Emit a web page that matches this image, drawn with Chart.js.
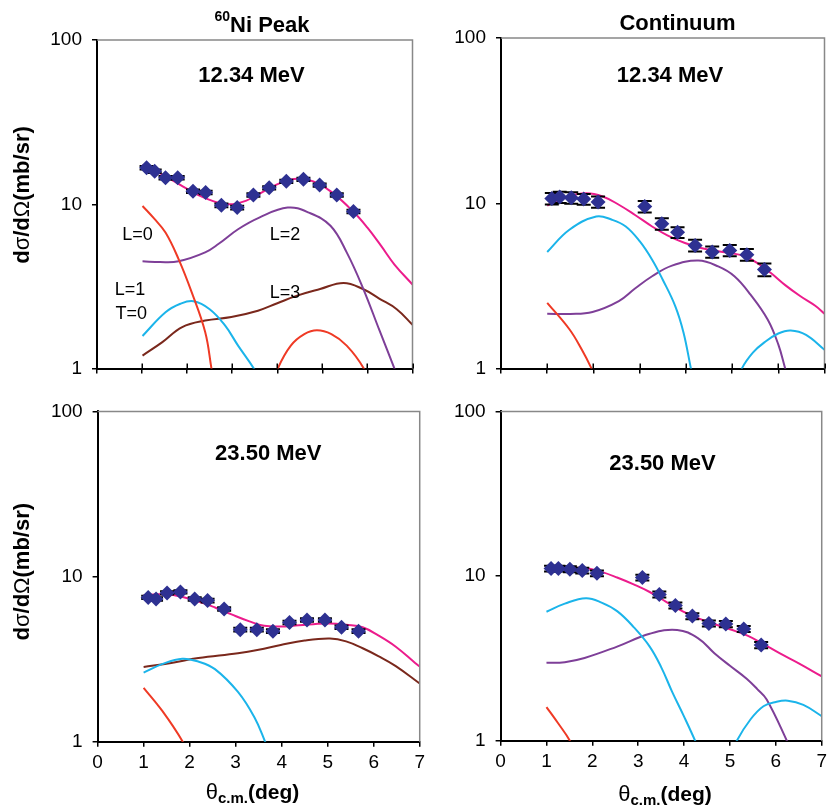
<!DOCTYPE html>
<html><head><meta charset="utf-8">
<script src="https://cdn.jsdelivr.net/npm/chart.js@4.4.0/dist/chart.umd.min.js"></script>
<style>
html,body{margin:0;padding:0;background:#fff;width:832px;height:808px;overflow:hidden;}
.p{position:absolute;}
canvas{display:block;}
</style></head><body>
<div class="p" style="left:0;top:0;"><canvas id="c1" width="420" height="390"></canvas></div>
<div class="p" style="left:420px;top:0;"><canvas id="c2" width="412" height="390"></canvas></div>
<div class="p" style="left:0;top:390px;"><canvas id="c3" width="430" height="418"></canvas></div>
<div class="p" style="left:420px;top:390px;"><canvas id="c4" width="412" height="418"></canvas></div>
<script>
// ---------------- DATA ----------------
const xTickValues = [0,1,2,3,4,5,6,7];
const yTickValues = [1,10,100];

// 60Ni peak, 12.34 MeV
const niAng12 = [1.10,1.28,1.52,1.79,2.13,2.41,2.76,3.11,3.47,3.82,4.20,4.58,4.94,5.32,5.69];
const niXs12  = [16.7,15.9,14.5,14.5,12.0,11.8,9.86,9.55,11.4,12.6,13.8,14.2,13.1,11.4,9.03];
const niErr12 = [0.4,0.4,0.35,0.35,0.3,0.3,0.25,0.25,0.28,0.3,0.33,0.33,0.3,0.28,0.22];
const niSum12T = [1.0,1.3,1.6,2.0,2.4,2.9,3.3,3.7,4.1,4.45,4.8,5.2,5.69,6.0,6.3,6.6,7.0];
const niSum12V = [17.3,15.9,14.4,12.4,10.9,10.0,10.5,12.0,13.6,14.3,13.8,11.9,9.0,7.2,5.6,4.3,3.25];
const niL0a12T = [1.01,1.265,1.52,1.81,2.10,2.40,2.54,2.6];
const niL0a12V = [9.77,8.2,6.73,4.64,2.92,1.67,1.0,0.8];
const niL0b12T = [3.96,4.01,4.30,4.6,4.88,5.2,5.54,5.92,5.97];
const niL0b12V = [0.85,1.0,1.38,1.62,1.71,1.62,1.38,1.0,0.85];
const niL1_12T = [1.01,1.52,1.85,2.14,2.5,2.84,3.13,3.48,3.54];
const niL1_12V = [1.58,2.2,2.48,2.57,2.3,1.83,1.38,1.0,0.9];
const niL2_12T = [1.01,1.4,1.81,2.40,2.7,3.13,3.6,4.23,4.7,5.18,5.54,5.91,6.27,6.60,6.66];
const niL2_12V = [4.5,4.45,4.5,5.1,5.75,7.05,8.3,9.55,8.9,7.4,5.1,3.05,1.7,1.0,0.9];
const niL3_12T = [1.01,1.45,1.89,2.4,2.98,3.57,4.0,4.44,4.95,5.47,5.9,6.27,6.65,7.0];
const niL3_12V = [1.2,1.45,1.79,1.96,2.06,2.25,2.5,2.78,3.05,3.32,3.05,2.66,2.3,1.85];

// Continuum, 12.34 MeV
const ctAng12 = [1.10,1.27,1.52,1.79,2.10,3.11,3.48,3.82,4.20,4.57,4.95,5.32,5.70];
const ctXs12  = [10.7,10.9,10.8,10.6,10.2,9.56,7.52,6.67,5.56,5.08,5.19,4.89,3.97];
const ctErr12 = [0.85,0.85,0.85,0.8,0.8,0.75,0.6,0.5,0.45,0.4,0.4,0.4,0.35];
const ctSum12T = [1.0,1.4,1.84,2.2,2.55,2.9,3.27,3.6,3.98,4.35,4.70,5.0,5.27,5.55,5.84,6.15,6.48,6.8,7.0];
const ctSum12V = [9.7,10.9,11.5,11.0,9.8,8.5,7.24,6.4,5.75,5.35,5.12,4.98,4.78,4.35,3.79,3.2,2.74,2.4,2.15];
const ctL0_12T = [1.0,1.48,1.75,1.96,2.02];
const ctL0_12V = [2.5,1.73,1.3,1.0,0.9];
const ctL1a12T = [1.0,1.48,2.06,2.4,2.7,3.0,3.27,3.5,3.77,3.95,4.11,4.15];
const ctL1a12V = [5.08,6.92,8.32,7.95,7.24,5.9,4.56,3.45,2.39,1.65,1.0,0.9];
const ctL1b12T = [5.15,5.21,5.45,5.70,6.0,6.27,6.6,7.0];
const ctL1b12V = [0.85,1.0,1.25,1.44,1.63,1.70,1.6,1.3];
const ctL2_12T = [1.0,1.5,1.98,2.55,2.9,3.27,3.7,4.27,4.7,5.05,5.4,5.77,6.0,6.15,6.2];
const ctL2_12V = [2.15,2.14,2.2,2.56,3.05,3.62,4.2,4.5,4.15,3.62,2.8,1.98,1.4,1.0,0.9];

// 60Ni peak, 23.50 MeV
const niAng23 = [1.10,1.27,1.51,1.80,2.11,2.39,2.75,3.10,3.46,3.81,4.17,4.55,4.94,5.30,5.67];
const niXs23  = [7.48,7.31,7.96,8.07,7.31,7.15,6.36,4.77,4.77,4.67,5.27,5.46,5.46,4.93,4.67];
const niErr23 = [0.18,0.18,0.18,0.18,0.18,0.18,0.15,0.12,0.12,0.12,0.13,0.13,0.13,0.12,0.12];
const niSum23T = [1.0,1.3,1.62,2.19,2.55,2.91,3.3,3.62,3.98,4.3,4.69,5.05,5.4,5.76,6.1,6.48,6.9,7.0];
const niSum23V = [7.7,7.8,7.75,7.05,6.5,5.9,5.35,5.03,4.98,5.05,5.15,5.2,5.1,4.93,4.4,3.76,3.0,2.85];
const niL0_23T = [1.0,1.41,1.85,1.9];
const niL0_23V = [2.12,1.53,1.0,0.9];
const niL1_23T = [1.0,1.4,1.84,2.2,2.55,3.05,3.41,3.64,3.7];
const niL1_23V = [2.62,2.95,3.18,3.05,2.75,2.0,1.4,1.0,0.9];
const niL3_23T = [1.0,1.6,2.19,3.05,3.5,3.98,4.5,5.05,5.4,5.76,6.1,6.48,7.0];
const niL3_23V = [2.83,3.0,3.21,3.43,3.6,3.85,4.1,4.21,4.05,3.68,3.3,2.87,2.25];

// Continuum, 23.50 MeV
const ctAng23 = [1.10,1.26,1.51,1.78,2.10,3.09,3.46,3.81,4.18,4.54,4.91,5.30,5.68];
const ctXs23  = [11.1,11.1,11.0,10.8,10.4,9.8,7.73,6.63,5.71,5.15,5.11,4.77,3.81];
const ctErr23 = [0.45,0.45,0.45,0.45,0.42,0.4,0.32,0.28,0.24,0.22,0.22,0.2,0.17];
const ctSum23T = [1.0,1.4,1.83,2.2,2.54,2.9,3.25,3.6,3.96,4.3,4.66,5.0,5.37,5.7,6.08,6.5,7.0];
const ctSum23V = [10.7,11.1,11.2,10.6,9.8,8.9,8.0,7.0,6.12,5.55,5.11,4.75,4.36,3.9,3.4,2.95,2.46];
const ctL0_23T = [1.0,1.25,1.51,1.56];
const ctL0_23V = [1.6,1.28,1.0,0.9];
const ctL1a23T = [1.0,1.4,1.86,2.2,2.54,2.9,3.25,3.5,3.74,4.0,4.24,4.3];
const ctL1a23V = [6.07,6.8,7.33,6.9,6.12,4.9,3.73,2.8,1.98,1.4,1.0,0.9];
const ctL1b23T = [5.1,5.15,5.45,5.73,6.0,6.26,6.6,7.0];
const ctL1b23V = [0.88,1.0,1.35,1.62,1.72,1.75,1.65,1.41];
const ctL2_23T = [1.0,1.4,1.83,2.54,3.25,3.85,4.3,4.66,5.0,5.37,5.6,5.8,6.24,6.3];
const ctL2_23V = [2.97,3.0,3.18,3.73,4.46,4.71,4.2,3.4,2.85,2.37,2.05,1.78,1.0,0.9];

// ---------------- STYLE ----------------
const NAVY='#2E3192', PINK='#EC1C8C', RED='#EF3A25', CYAN='#1BB4EA', PURPLE='#7E3F98', BROWN='#7A281C';
const SANS = "'Liberation Sans', Arial, Helvetica, sans-serif";

function series(t, v){ return t.map((x,i)=>({x:x, y:v[i]})); }

function drawParts(ctx, parts, cx, base){
  let w = 0;
  parts.forEach(p=>{ ctx.font = p.font; w += ctx.measureText(p.s).width; });
  let x = cx - w/2;
  parts.forEach(p=>{ ctx.font = p.font; ctx.fillText(p.s, x, base + (p.dy||0)); x += ctx.measureText(p.s).width; });
}

function makeChart(id, g, d){
  const datasets = [{
    data: series(d.ang, d.xs), showLine:false, pointStyle:'rectRot',
    pointRadius:7.5, pointHoverRadius:7.5, pointBackgroundColor:NAVY, pointBorderColor:NAVY,
    pointBorderWidth:0, errors:d.err
  }];
  d.curves.forEach(c=>datasets.push({
    data: series(c.t, c.v), borderColor:c.color, borderWidth:2, pointRadius:0,
    tension:0.4, fill:false, clip:0
  }));
  const deco = {
    id:'deco',
    beforeDatasetDraw(chart, args){
      if (args.index !== 0) return;
      const ctx = chart.ctx, xs = chart.scales.x, ys = chart.scales.y;
      const ds = chart.data.datasets[0];
      ctx.save();
      ctx.strokeStyle = '#000'; ctx.lineWidth = 2;
      ds.data.forEach((p,i)=>{
        const e = ds.errors[i];
        const px = xs.getPixelForValue(p.x);
        const y1 = ys.getPixelForValue(p.y + e), y2 = ys.getPixelForValue(p.y - e);
        ctx.beginPath();
        ctx.moveTo(px, y1); ctx.lineTo(px, y2);
        ctx.moveTo(px-g.cap, y1); ctx.lineTo(px+g.cap, y1);
        ctx.moveTo(px-g.cap, y2); ctx.lineTo(px+g.cap, y2);
        ctx.stroke();
      });
      ctx.restore();
    },
    afterDraw(chart){
      const ctx = chart.ctx, a = chart.chartArea, xs = chart.scales.x;
      ctx.save();
      ctx.strokeStyle = '#888'; ctx.lineWidth = 1.5;
      ctx.beginPath(); ctx.moveTo(a.left, a.top); ctx.lineTo(a.right, a.top); ctx.lineTo(a.right, a.bottom); ctx.stroke();
      if (g.crossTicks){
        ctx.strokeStyle = '#000'; ctx.lineWidth = 1.5;
        xTickValues.forEach(v=>{
          const px = Math.round(xs.getPixelForValue(v)) + 0.25;
          ctx.beginPath(); ctx.moveTo(px, a.bottom); ctx.lineTo(px, a.bottom-5); ctx.stroke();
        });
      }
      ctx.fillStyle = '#000'; ctx.textBaseline = 'alphabetic';
      (d.texts||[]).forEach(t=>drawParts(ctx, t.parts, t.x, t.y));
      (d.labels||[]).forEach(t=>{
        ctx.font = '18px ' + SANS; ctx.textAlign = 'center';
        ctx.fillText(t.s, chart.scales.x.getPixelForValue(t.x), chart.scales.y.getPixelForValue(t.y));
      });
      ctx.textAlign = 'left';
      if (d.yTitle){
        ctx.save();
        ctx.translate(d.yTitle.x, d.yTitle.y);
        ctx.rotate(-Math.PI/2);
        drawParts(ctx, [
          {s:'d', font:'bold 22px '+SANS},
          {s:'\u03C3', font:'22px '+SANS},
          {s:'/d', font:'bold 22px '+SANS},
          {s:'\u03A9', font:'22px '+SANS},
          {s:'(mb/sr)', font:'bold 22px '+SANS}
        ], 0, 0);
        ctx.restore();
      }
      if (d.xTitle){
        drawParts(ctx, [
          {s:'\u03B8', font:'22px '+SANS},
          {s:'c.m.', font:'bold 15px '+SANS, dy:4},
          {s:'(deg)', font:'bold 21px '+SANS}
        ], d.xTitle.x, d.xTitle.y);
      }
      ctx.restore();
    }
  };
  const gridCfg = { display:true, drawOnChartArea:false, drawTicks:true, tickLength:5, color:'#000', lineWidth:1.5 };
  const borderCfg = { display:true, color:'#000', width:2 };
  new Chart(document.getElementById(id), {
    type:'line',
    data:{ datasets },
    options:{
      responsive:false, animation:false, events:[],
      layout:{ padding:{ left:0, top:g.top, right:g.right, bottom:0 } },
      plugins:{ legend:{display:false}, tooltip:{enabled:false} },
      scales:{
        x:{ type:'linear', min:0, max:7,
            afterFit(s){ s.height = g.xH; },
            afterBuildTicks(s){ s.ticks = xTickValues.map(v=>({value:v})); },
            ticks:{ display:g.xLabels, font:{family:SANS, size:19}, color:'#000', padding:5, maxRotation:0, autoSkip:false,
                    callback:(v)=>String(v) },
            grid:gridCfg, border:borderCfg },
        y:{ type:'logarithmic', min:1, max:100,
            afterFit(s){ s.width = g.yW; },
            afterBuildTicks(s){ s.ticks = yTickValues.map(v=>({value:v})); },
            ticks:{ font:{family:SANS, size:19}, color:'#000', padding:10, callback:(v)=>String(v) },
            grid:gridCfg, border:borderCfg }
      }
    },
    plugins:[deco]
  });
}

const B22 = 'bold 22px ' + SANS;

makeChart('c1', {yW:97, xH:20, top:40, right:3.3, xLabels:false, crossTicks:true, cap:7}, {
  ang:niAng12, xs:niXs12, err:niErr12,
  curves:[
    {t:niSum12T, v:niSum12V, color:PINK},
    {t:niL0a12T, v:niL0a12V, color:RED},
    {t:niL0b12T, v:niL0b12V, color:RED},
    {t:niL1_12T, v:niL1_12V, color:CYAN},
    {t:niL2_12T, v:niL2_12V, color:PURPLE},
    {t:niL3_12T, v:niL3_12V, color:BROWN}
  ],
  texts:[
    {x:262, y:31.7, parts:[{s:'60', font:'bold 14px '+SANS, dy:-11},{s:'Ni Peak', font:B22}]},
    {x:251.5, y:81.7, parts:[{s:'12.34 MeV', font:B22}]}
  ],
  labels:[
    {s:'L=0', x:0.90, y:6.1}, {s:'L=2', x:4.17, y:6.1},
    {s:'L=1', x:0.73, y:2.82}, {s:'T=0', x:0.76, y:2.0}, {s:'L=3', x:4.17, y:2.7}
  ],
  yTitle:{x:29, y:195}
});

makeChart('c2', {yW:81, xH:21, top:38, right:4, xLabels:false, crossTicks:true, cap:7}, {
  ang:ctAng12, xs:ctXs12, err:ctErr12,
  curves:[
    {t:ctSum12T, v:ctSum12V, color:PINK},
    {t:ctL0_12T, v:ctL0_12V, color:RED},
    {t:ctL1a12T, v:ctL1a12V, color:CYAN},
    {t:ctL1b12T, v:ctL1b12V, color:CYAN},
    {t:ctL2_12T, v:ctL2_12V, color:PURPLE}
  ],
  texts:[
    {x:257.5, y:29.5, parts:[{s:'Continuum', font:B22}]},
    {x:250, y:81.7, parts:[{s:'12.34 MeV', font:B22}]}
  ]
});

makeChart('c3', {yW:97.6, xH:66.3, top:10, right:5.5, xLabels:true, crossTicks:false, cap:7}, {
  ang:niAng23, xs:niXs23, err:niErr23,
  curves:[
    {t:niSum23T, v:niSum23V, color:PINK},
    {t:niL0_23T, v:niL0_23V, color:RED},
    {t:niL1_23T, v:niL1_23V, color:CYAN},
    {t:niL3_23T, v:niL3_23V, color:BROWN}
  ],
  texts:[
    {x:268.3, y:70, parts:[{s:'23.50 MeV', font:B22}]}
  ],
  yTitle:{x:29, y:181.7},
  xTitle:{x:252.5, y:408.5}
});

makeChart('c4', {yW:80.6, xH:67.3, top:10, right:2, xLabels:true, crossTicks:false, cap:7}, {
  ang:ctAng23, xs:ctXs23, err:ctErr23,
  curves:[
    {t:ctSum23T, v:ctSum23V, color:PINK},
    {t:ctL0_23T, v:ctL0_23V, color:RED},
    {t:ctL1a23T, v:ctL1a23V, color:CYAN},
    {t:ctL1b23T, v:ctL1b23V, color:CYAN},
    {t:ctL2_23T, v:ctL2_23V, color:PURPLE}
  ],
  texts:[
    {x:242.5, y:80, parts:[{s:'23.50 MeV', font:B22}]}
  ],
  xTitle:{x:245, y:410.5}
});
</script>
</body></html>
